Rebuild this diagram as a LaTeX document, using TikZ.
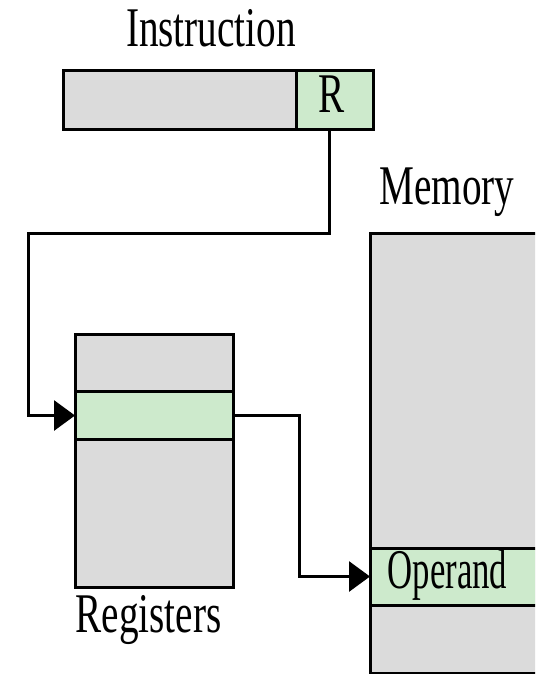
\documentclass[tikz,border=0pt]{standalone}
\usepackage{fontspec}
\usepackage{graphicx}
\setmainfont{Liberation Serif}
\usetikzlibrary{arrows.meta}
\definecolor{boxgray}{RGB}{219,219,219}
\definecolor{boxgreen}{RGB}{205,234,204}
\begin{document}
\begin{tikzpicture}[x=1pt,y=-1pt,
  cell/.style={draw=black, line width=3pt, fill=boxgray, rectangle, inner sep=0pt, outer sep=0pt},
  gcell/.style={cell, fill=boxgreen},
  lbl/.style={font=\fontsize{56}{60}\selectfont, inner sep=0pt, anchor=base},
  wire/.style={line width=3pt},
  tip/.style={-{Triangle[length=21pt,width=30pt]}}
]
\useasboundingbox (0,0) rectangle (535,674);
\clip (0,0) rectangle (535,674);
% instruction
\node[cell, minimum width=310pt, minimum height=58pt] (instr) at (218,100) {};
\node[gcell, minimum width=77pt, minimum height=58pt] (r) at (334.5,100) {};
\node[lbl] (tinstr) at (211,47) {\scalebox{0.7}[1]{Instruction}};
\node[lbl] (tr) at (332,113) {\scalebox{0.7}[1]{R}};
% registers
\node[cell, minimum width=158pt, minimum height=253pt] (regs) at (154,460.5) {};
\node[gcell, minimum width=158pt, minimum height=48pt] (rg) at (154,415.5) {};
\node[lbl] (tregs) at (148.5,632) {\scalebox{0.7}[1]{Registers}};
% memory
\node[cell, minimum width=190pt, minimum height=440pt] (mem) at (465,453) {};
\node[gcell, minimum width=190pt, minimum height=57pt] (op) at (465,576.5) {};
\node[lbl] (tmem) at (447,204) {\scalebox{0.7}[1]{Memory}};
\node[lbl] (top) at (447.5,588) {\scalebox{0.62}[1]{Operand}};
% connectors
\draw[wire, tip] ([xshift=-5.5pt]r.south) |- (28,233) |- (rg.west);
\draw[wire, tip] (rg.east) -| (299,500) |- (op.west);
\end{tikzpicture}
\end{document}
